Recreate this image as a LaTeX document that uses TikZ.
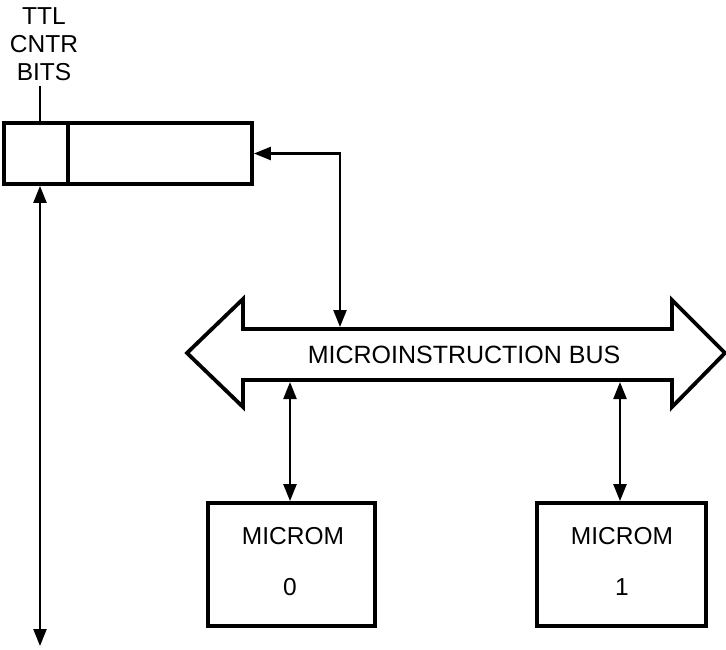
\documentclass[tikz,border=0pt]{standalone}
\usepackage{fontspec}
\setmainfont{Liberation Sans}
\usetikzlibrary{arrows.meta}
\begin{document}
\begin{tikzpicture}[x=1pt,y=-1pt,
  thickbox/.style={draw,line width=3.8pt,inner sep=0pt},
  conn/.style={line width=2.3pt,{Triangle[length=17pt,width=13pt]}-{Triangle[length=17pt,width=13pt]}},
  lbl/.style={font=\fontsize{24.5pt}{28pt}\selectfont,inner sep=0pt}]
\useasboundingbox (0,0) rectangle (726,649);
% register
\node[thickbox,minimum width=64pt,minimum height=61pt] (regL) at (36,153.5) {};
\node[thickbox,minimum width=184pt,minimum height=61pt] (regR) at (160,153.5) {};
\node[lbl,align=center] (ttl) at (44,44) {TTL\\CNTR\\BITS};
\coordinate (ttlb) at (40,86);
\draw[line width=2.3pt] (ttlb) -- (ttlb |- regL.north);
% bus
\draw[line width=3.8pt,line join=miter]
  (187,353) -- (243,299) -- (243,329) -- (672,329) -- (672,300) -- (725,353)
  -- (672,407) -- (672,380) -- (243,380) -- (243,407) -- cycle;
\node[lbl,font=\fontsize{25pt}{28pt}\selectfont] (bus) at (464,355) {MICROINSTRUCTION BUS};
\coordinate (busin) at (340,327);
\coordinate (bus0) at (290,382);
\coordinate (bus1) at (620,382);
% MICROM boxes
\node[thickbox,minimum width=167pt,minimum height=123pt] (m0) at (291.5,564.5) {};
\node[thickbox,minimum width=169pt,minimum height=123pt] (m1) at (621.5,564.5) {};
\node[lbl] (m0t) at (293,536) {MICROM};
\node[lbl] (m0n) at (290,587) {0};
\node[lbl] (m1t) at (622,536) {MICROM};
\node[lbl] (m1n) at (622,587) {1};
% connectors
\draw[conn] (regR.east) -| (busin);
\draw[conn] (bus0) -- (bus0 |- m0.north);
\draw[conn] (bus1) -- (bus1 |- m1.north);
\coordinate (lowend) at (40,646);
\draw[conn] (lowend |- regL.south) -- (lowend);
\end{tikzpicture}
\end{document}
